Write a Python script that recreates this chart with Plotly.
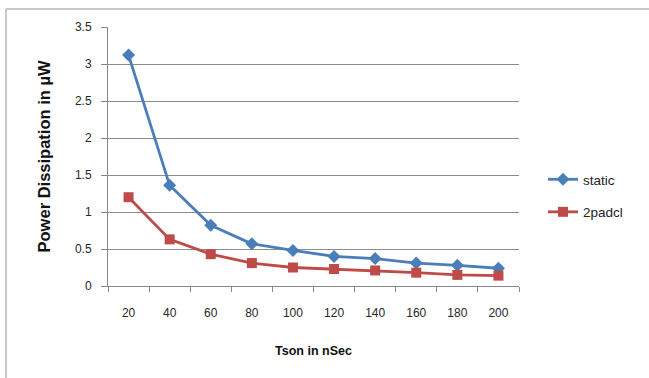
import plotly.graph_objects as go

categories = ["20", "40", "60", "80", "100", "120", "140", "160", "180", "200"]
static_vals = [3.12, 1.36, 0.82, 0.57, 0.48, 0.40, 0.37, 0.31, 0.28, 0.24]
padcl_vals = [1.20, 0.63, 0.43, 0.31, 0.25, 0.23, 0.21, 0.18, 0.15, 0.14]
y_ticks = [0, 0.5, 1, 1.5, 2, 2.5, 3, 3.5]
y_ticklabels = ["0", "0.5", "1", "1.5", "2", "2.5", "3", "3.5"]

W, H = 649, 378
L, R, T, B = 108, 130, 27, 92

fig = go.Figure()
fig.add_trace(go.Scatter(
    x=categories, y=static_vals, name="static", mode="lines+markers",
    line=dict(color="#4A7EBB", width=2.8),
    marker=dict(symbol="diamond", size=10, color="#4A7EBB"),
    legendgroup="a",
))
fig.add_trace(go.Scatter(
    x=categories, y=padcl_vals, name="2padcl", mode="lines+markers",
    line=dict(color="#BE4B48", width=2.8),
    marker=dict(symbol="square", size=10, color="#BE4B48"),
    legendgroup="b",
))

pw = W - L - R
ph = H - T - B

def px_x(p):
    return (p - L) / pw

def px_y(p):
    return (H - B - p) / ph

frame_color = "#c8c8c8"
fig.add_shape(type="line", xref="paper", yref="paper",
              x0=px_x(6), x1=px_x(6), y0=px_y(9), y1=px_y(400),
              line=dict(color=frame_color, width=2))
fig.add_shape(type="line", xref="paper", yref="paper",
              x0=px_x(6), x1=px_x(700), y0=px_y(9), y1=px_y(9),
              line=dict(color=frame_color, width=2))

tick_font = dict(family="Liberation Sans", size=12, color="#262626")
fig.update_layout(
    width=W, height=H,
    margin=dict(l=L, r=R, t=T, b=B),
    paper_bgcolor="white", plot_bgcolor="white",
    showlegend=True,
    legend=dict(x=px_x(543), y=px_y(164), xanchor="left", yanchor="top",
                font=dict(family="Liberation Sans", size=13.5, color="#222222"),
                tracegroupgap=12, bgcolor="rgba(0,0,0,0)"),
    xaxis=dict(type="category", range=[-0.5, 9.5], tickson="boundaries",
               ticks="outside", ticklen=5, tickcolor="#888888",
               showline=True, linecolor="#888888", linewidth=1,
               showgrid=False, tickfont=tick_font, ticklabelstandoff=16,
               title=dict(text="<b>Tson in nSec</b>", standoff=26,
                          font=dict(family="Liberation Sans", size=12.5, color="#111111"))),
    yaxis=dict(range=[0, 3.5], tickvals=y_ticks, ticktext=y_ticklabels,
               ticks="outside", ticklen=6, tickcolor="#888888",
               showline=True, linecolor="#888888", linewidth=1,
               showgrid=True, gridcolor="#8c8c8c", gridwidth=1,
               zeroline=False, tickfont=tick_font, ticklabelstandoff=7,
               title=dict(text="<b>Power Dissipation in µW</b>", standoff=20,
                          font=dict(family="Liberation Sans", size=16.5, color="#111111"))),
)

fig.write_html("out.html", config={"displayModeBar": False},
               post_script="document.body.style.margin='0';")
